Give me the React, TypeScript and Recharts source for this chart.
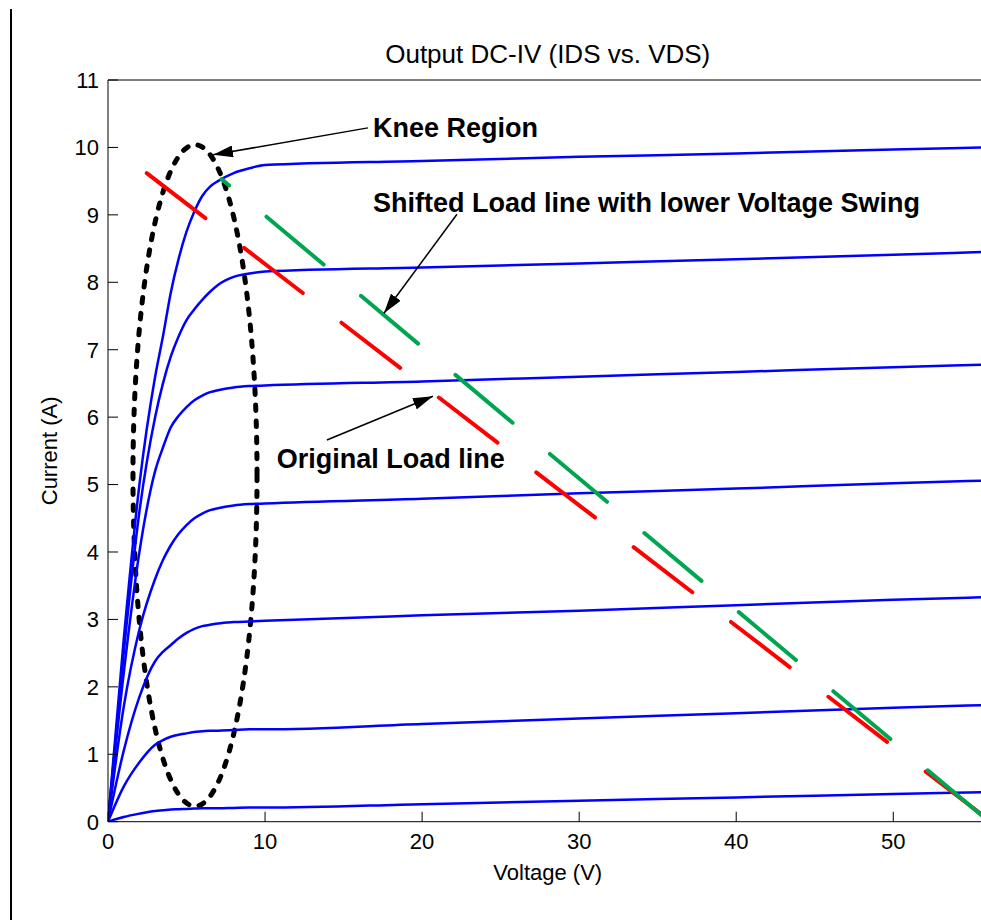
import React from "react";
import { LineChart, Line, XAxis, YAxis, ReferenceLine, ReferenceDot, ReferenceArea } from "recharts";

// drain voltage samples (V) shared by all IDS curves
const voltage = [0, 1, 2, 3, 3.5, 4, 4.5, 5, 5.5, 6, 6.5, 7, 8, 9, 10, 20, 30, 40, 50, 56];
// IDS (A) for each gate step, top to bottom
const curve1 = [0, 2.7, 5.0, 6.6, 7.2, 7.85, 8.35, 8.75, 9.05, 9.28, 9.42, 9.5, 9.62, 9.69, 9.74, 9.8, 9.86, 9.91, 9.97, 10.0];
const curve2 = [0, 2.5, 4.6, 6.0, 6.5, 6.9, 7.2, 7.44, 7.6, 7.74, 7.86, 7.96, 8.08, 8.13, 8.16, 8.22, 8.28, 8.34, 8.41, 8.45];
const curve3 = [0, 2.2, 4.0, 5.2, 5.55, 5.85, 6.02, 6.15, 6.25, 6.32, 6.37, 6.4, 6.44, 6.46, 6.47, 6.53, 6.6, 6.67, 6.74, 6.78];
const curve4 = [0, 1.7, 2.85, 3.6, 3.88, 4.1, 4.27, 4.4, 4.5, 4.57, 4.62, 4.65, 4.69, 4.71, 4.72, 4.79, 4.87, 4.94, 5.02, 5.06];
const curve5 = [0, 1.05, 1.85, 2.38, 2.52, 2.62, 2.72, 2.8, 2.86, 2.9, 2.92, 2.94, 2.96, 2.97, 2.98, 3.06, 3.13, 3.21, 3.29, 3.33];
const curve6 = [0, 0.52, 0.88, 1.14, 1.21, 1.26, 1.29, 1.31, 1.33, 1.34, 1.35, 1.35, 1.36, 1.37, 1.37, 1.45, 1.53, 1.61, 1.69, 1.73];
const curve7 = [0, 0.07, 0.12, 0.16, 0.17, 0.18, 0.185, 0.19, 0.195, 0.2, 0.2, 0.2, 0.205, 0.21, 0.21, 0.26, 0.31, 0.36, 0.41, 0.44];
const curves = [curve1, curve2, curve3, curve4, curve5, curve6, curve7];

// load lines: end points (V, A)
const originalLoadV = [0, 56];
const originalLoadI = [10.06, 0.04];
const shiftedLoadV = [7.23, 56];
const shiftedLoadI = [9.53, 0.02];

const xTicks = [0, 10, 20, 30, 40, 50];
const yTicks = [0, 1, 2, 3, 4, 5, 6, 7, 8, 9, 10, 11];

// annotations in data units
const kneeBoxV = [1.59, 9.49];
const kneeBoxI = [0.23, 10.04];
const arrows = [
  { from: [16.55, 10.29], to: [6.69, 9.89] },
  { from: [22.22, 9.01], to: [17.57, 7.54] },
  { from: [13.94, 5.66], to: [20.69, 6.31] },
];
const notes = [
  { text: "Knee Region", v: 16.87, i: 10.3 },
  { text: "Shifted Load line with lower Voltage Swing", v: 16.87, i: 9.19 },
  { text: "Original Load line", v: 10.74, i: 5.39 },
];

const rows = voltage.map((v, k) => {
  const r: Record<string, number> = { v };
  curves.forEach((c, n) => (r["c" + (n + 1)] = c[k]));
  return r;
});
const originalRows = originalLoadV.map((v, k) => ({ v, i: originalLoadI[k] }));
const shiftedRows = shiftedLoadV.map((v, k) => ({ v, i: shiftedLoadI[k] }));

const tickFont = { fontSize: 22, fill: "#000" };

const yLabel = (p: any) => {
  const vb = p.viewBox;
  const cx = vb.x + 57;
  const cy = vb.y + vb.height / 2;
  return (
    <text x={cx} y={cy} transform={`rotate(-90 ${cx} ${cy})`} textAnchor="middle" fontSize={22} fill="#000">
      Current (A)
    </text>
  );
};

export default function App() {
  return (
    <div
      style={{
        position: "fixed",
        left: 0,
        top: 0,
        width: 981,
        height: 920,
        overflow: "hidden",
        background: "#fff",
        fontFamily: '"Liberation Sans", Arial, sans-serif',
      }}
    >
      <svg width={0} height={0} style={{ position: "absolute" }}>
        <defs>
          <marker id="head" viewBox="0 0 20 12" refX={20} refY={6} markerWidth={20} markerHeight={12} markerUnits="userSpaceOnUse" orient="auto">
            <path d="M0,0 L20,6 L0,12 z" fill="#000" />
          </marker>
        </defs>
      </svg>
      <div style={{ position: "absolute", left: 10, top: 9, width: 2, height: 911, background: "#000" }} />
      <LineChart width={1020} height={920} data={rows} margin={{ top: 50, right: 22.5, bottom: 38.3, left: 0 }}>
        <XAxis
          dataKey="v"
          type="number"
          domain={[0, 56]}
          ticks={xTicks}
          interval={0}
          allowDataOverflow
          height={60}
          tickSize={-10}
          tickMargin={21.3}
          stroke="#000"
          tick={tickFont}
          label={{ value: "Voltage (V)", position: "insideBottom", offset: 2, fontSize: 22, fill: "#000" }}
        />
        <XAxis
          xAxisId="top"
          orientation="top"
          dataKey="v"
          type="number"
          domain={[0, 56]}
          ticks={xTicks}
          interval={0}
          allowDataOverflow
          height={30}
          tickSize={-10}
          tick={false}
          stroke="#000"
          label={{ value: "Output DC-IV (IDS vs. VDS)", position: "top", offset: -13, fontSize: 26, fill: "#000" }}
        />
        <YAxis
          type="number"
          domain={[0, 11]}
          ticks={yTicks}
          interval={0}
          allowDataOverflow
          width={108}
          tickSize={-10}
          tickMargin={19}
          stroke="#000"
          tick={tickFont}
          label={yLabel}
        />
        <YAxis
          yAxisId="right"
          orientation="right"
          type="number"
          domain={[0, 11]}
          ticks={yTicks}
          interval={0}
          width={10}
          tickSize={-10}
          tick={false}
          stroke="#000"
        />
        {curves.map((_, n) => (
          <Line
            key={n}
            dataKey={"c" + (n + 1)}
            type="monotone"
            stroke="#0000ff"
            strokeWidth={2.5}
            dot={false}
            isAnimationActive={false}
          />
        ))}
        <Line
          data={originalRows}
          dataKey="i"
          type="linear"
          stroke="#ff0000"
          strokeWidth={4}
          strokeLinecap="round"
          strokeDasharray="74 48.8"
          strokeDashoffset={74}
          dot={false}
          isAnimationActive={false}
        />
        <Line
          data={shiftedRows}
          dataKey="i"
          type="linear"
          stroke="#00a550"
          strokeWidth={4}
          strokeLinecap="round"
          strokeDasharray="74.5 48.7"
          strokeDashoffset={64.6}
          dot={false}
          isAnimationActive={false}
        />
        <ReferenceArea
          x1={kneeBoxV[0]}
          x2={kneeBoxV[1]}
          y1={kneeBoxI[0]}
          y2={kneeBoxI[1]}
          shape={(p: any) => (
            <ellipse
              cx={p.x + p.width / 2}
              cy={p.y + p.height / 2}
              rx={Math.abs(p.width) / 2}
              ry={Math.abs(p.height) / 2}
              fill="none"
              stroke="#000"
              strokeWidth={5}
              strokeDasharray="5.5 10.5"
              strokeLinecap="round"
            />
          )}
        />
        {arrows.map((a, n) => (
          <ReferenceLine
            key={"a" + n}
            segment={[
              { x: a.from[0], y: a.from[1] },
              { x: a.to[0], y: a.to[1] },
            ]}
            shape={(p: any) => (
              <line x1={p.x1} y1={p.y1} x2={p.x2} y2={p.y2} stroke="#000" strokeWidth={1.5} markerEnd="url(#head)" />
            )}
          />
        ))}
        {notes.map((t, n) => (
          <ReferenceDot
            key={"t" + n}
            x={t.v}
            y={t.i}
            r={0}
            fill="none"
            stroke="none"
            label={{ value: t.text, position: "right", offset: 0, fontSize: 27, fontWeight: "bold", fill: "#000" }}
          />
        ))}
      </LineChart>
    </div>
  );
}
